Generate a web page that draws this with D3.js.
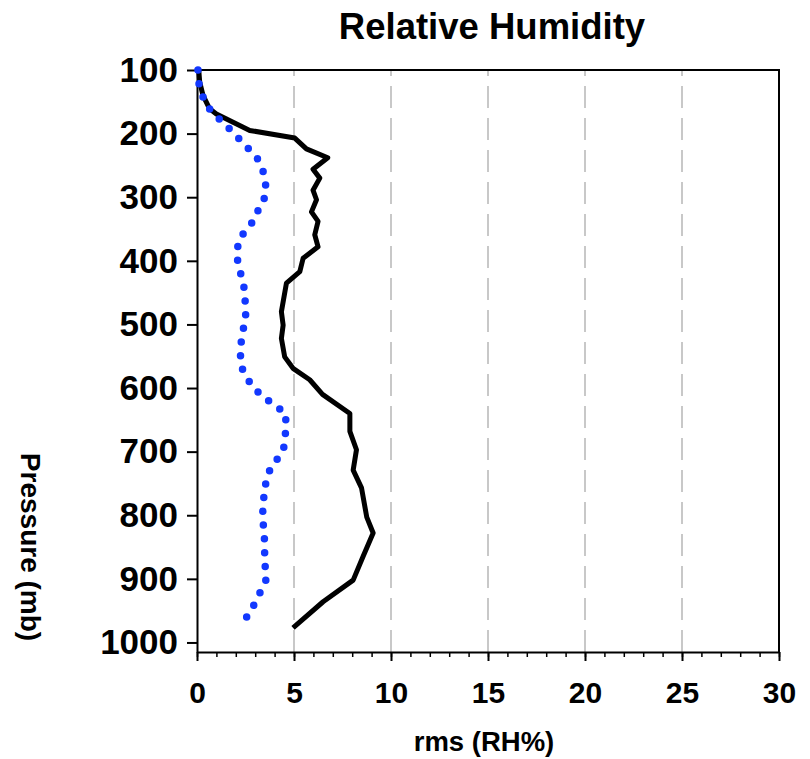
<!DOCTYPE html>
<html>
<head>
<meta charset="utf-8">
<script src="https://cdn.jsdelivr.net/npm/d3@7"></script>
<style>
  body { margin: 0; background: #fff; }
  text { font-family: "Liberation Sans", Arial, sans-serif; font-weight: bold; fill: #000; }
</style>
</head>
<body>
<svg id="chart" width="810" height="759"></svg>
<script>
// Pressure levels (mb) and rms error of relative humidity (RH%)
const levels = [100, 119, 140, 161, 169, 182, 195, 207, 224, 238, 256, 270, 289, 304, 323, 338, 359, 378, 396, 417, 435, 480, 501, 522, 551, 569, 587, 610, 640, 668, 697, 729, 757, 803, 828, 865, 902, 936, 977];
const rmsSolid = [0.09, 0.14, 0.31, 0.65, 1.0, 1.86, 2.72, 5.04, 5.64, 6.74, 5.98, 6.33, 5.98, 6.16, 5.9, 6.24, 6.07, 6.24, 5.47, 5.3, 4.61, 4.35, 4.44, 4.35, 4.52, 4.95, 5.81, 6.47, 7.88, 7.88, 8.22, 8.05, 8.48, 8.75, 9.08, 8.56, 8.05, 6.5, 4.95];

const levelsDotted = [100, 119, 140, 161, 169, 182, 195, 207, 224, 238, 256, 270, 289, 304, 323, 338, 359, 378, 396, 417, 435, 480, 501, 522, 551, 569, 587, 610, 640, 668, 697, 729, 757, 803, 828, 865, 902, 936, 960];
const rmsDotted = [0.05, 0.08, 0.27, 0.64, 0.85, 1.33, 1.75, 2.13, 2.66, 3.09, 3.37, 3.52, 3.55, 3.45, 3.11, 2.89, 2.34, 2.10, 2.07, 2.22, 2.40, 2.53, 2.43, 2.29, 2.24, 2.32, 2.62, 3.24, 4.58, 4.57, 4.46, 3.75, 3.48, 3.37, 3.47, 3.49, 3.55, 3.03, 2.56];

const xTicks = [0, 5, 10, 15, 20, 25, 30];
const xGrid = [5, 10, 15, 20, 25];
const yTicks = [100, 200, 300, 400, 500, 600, 700, 800, 900, 1000];

const titleText = "Relative Humidity";
const xTitleText = "rms (RH%)";
const yTitleText = "Pressure (mb)";

const svg = d3.select("#chart");

const x = d3.scaleLinear().domain([0, 30]).range([197, 779]);
const y = d3.scaleLinear().domain([100, 1015]).range([70, 652]);

// dashed vertical gridlines
svg.append("g")
  .selectAll("line")
  .data(xGrid)
  .join("line")
  .attr("x1", d => x(d)).attr("x2", d => x(d))
  .attr("y1", y(1015)).attr("y2", y(100))
  .attr("stroke", "#c8c8c8")
  .attr("stroke-width", 2)
  .attr("stroke-dasharray", "22 10");

// top and right frame
svg.append("path")
  .attr("d", `M${x(0)},${y(100)}H${x(30)}V${y(1015)}`)
  .attr("fill", "none")
  .attr("stroke", "#000")
  .attr("stroke-width", 2);

// left axis
const yAxis = svg.append("g")
  .attr("transform", `translate(${x(0)},0)`)
  .call(d3.axisLeft(y).tickValues(yTicks).tickSize(10).tickSizeOuter(0).tickPadding(9).tickFormat(d3.format("d")));
yAxis.select(".domain").attr("stroke-width", 2);
yAxis.selectAll(".tick line").attr("stroke-width", 2);
yAxis.selectAll(".tick text").attr("font-size", 35).attr("font-family", null);

// bottom axis: minor ticks every unit, major every 5
svg.append("g")
  .attr("transform", `translate(0,${y(1015)})`)
  .call(d3.axisBottom(x).tickValues(d3.range(0, 31, 1)).tickSize(5).tickSizeOuter(0).tickFormat(""))
  .call(g => g.select(".domain").remove())
  .call(g => g.selectAll(".tick line").attr("stroke-width", 1.5));

const xAxis = svg.append("g")
  .attr("transform", `translate(0,${y(1015)})`)
  .call(d3.axisBottom(x).tickValues(xTicks).tickSize(9).tickSizeOuter(0).tickPadding(21));
xAxis.select(".domain").attr("stroke-width", 2);
xAxis.selectAll(".tick line").attr("stroke-width", 2);
xAxis.selectAll(".tick text").attr("font-size", 30).attr("font-family", null);

// profiles
const solidData = levels.map((p, i) => ({ p, v: rmsSolid[i] }));
const dottedData = levelsDotted.map((p, i) => ({ p, v: rmsDotted[i] }));
const line = d3.line().x(d => x(d.v)).y(d => y(d.p));

svg.append("path")
  .datum(solidData)
  .attr("d", line)
  .attr("fill", "none")
  .attr("stroke", "#000")
  .attr("stroke-width", 5)
  .attr("stroke-linejoin", "round");

const dotted = svg.append("path")
  .datum(dottedData)
  .attr("d", line)
  .attr("fill", "none")
  .attr("stroke", "#1238ff")
  .attr("stroke-width", 7.5)
  .attr("stroke-linecap", "round");

// round-dot pattern spaced so a dot falls on both ends of the profile
const dottedLen = dotted.node().getTotalLength();
const dotGap = dottedLen / Math.round(dottedLen / 13.8);
dotted.attr("stroke-dasharray", `0 ${dotGap}`);

// titles
svg.append("text")
  .attr("x", 492).attr("y", 39)
  .attr("text-anchor", "middle")
  .attr("font-size", 36.5)
  .text(titleText);

svg.append("text")
  .attr("x", 484).attr("y", 751)
  .attr("text-anchor", "middle")
  .attr("font-size", 27.5)
  .text(xTitleText);

svg.append("text")
  .attr("transform", "translate(21,547) rotate(90)")
  .attr("text-anchor", "middle")
  .attr("font-size", 28)
  .text(yTitleText);
</script>
</body>
</html>
